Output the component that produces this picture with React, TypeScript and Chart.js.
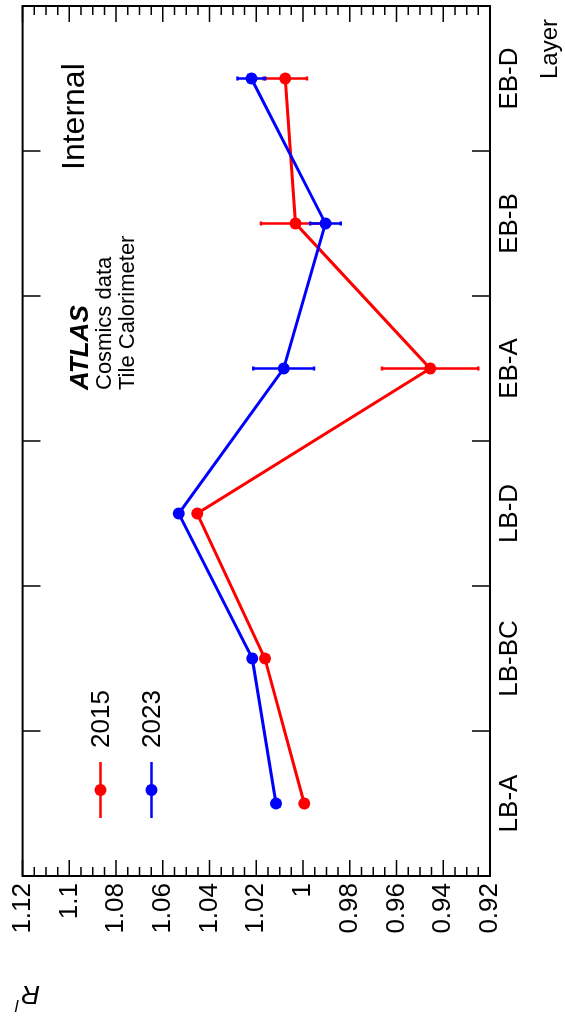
import { useEffect, useRef } from "react";
import { Chart, registerables } from "chart.js";

Chart.register(...registerables);

// ---- data ----
const layers = ["LB-A", "LB-BC", "LB-D", "EB-A", "EB-B", "EB-D"];
const years = ["2015", "2023"];
const colors = ["#ff0000", "#0000ff"];
const r2015 = [0.9995, 1.0163, 1.0453, 0.9456, 1.0032, 1.0076];
const e2015 = [0.0015, 0.0015, 0.0015, 0.0206, 0.0148, 0.0093];
const r2023 = [1.0116, 1.0217, 1.0532, 1.0083, 0.9904, 1.0221];
const e2023 = [0.0015, 0.0015, 0.0015, 0.013, 0.0065, 0.0059];
const errors = [e2015, e2023];
const yMin = 0.92;
const yMax = 1.12;
const yMajorStep = 0.02;
const yMinorStep = 0.005;
const xTitle = "Layer";
const atlasLines = ["Cosmics data", "Tile Calorimeter"];

const FONT = "'Liberation Sans', Arial, Helvetica, sans-serif";

const decor = {
  id: "atlasDecor",
  afterDatasetDraw(chart: any, args: any) {
    const i = args.index;
    const ds = chart.data.datasets[i];
    const errs = errors[i];
    const meta = chart.getDatasetMeta(i);
    const ys = chart.scales.y;
    const ctx = chart.ctx;
    ctx.save();
    ctx.strokeStyle = ds.borderColor;
    ctx.lineWidth = 2.5;
    meta.data.forEach((pt: any, k: number) => {
      const v = ds.data[k];
      const e = errs[k];
      const y1 = ys.getPixelForValue(v + e);
      const y2 = ys.getPixelForValue(v - e);
      ctx.beginPath();
      ctx.moveTo(pt.x, y1);
      ctx.lineTo(pt.x, y2);
      ctx.moveTo(pt.x - 2, y1);
      ctx.lineTo(pt.x + 2, y1);
      ctx.moveTo(pt.x - 2, y2);
      ctx.lineTo(pt.x + 2, y2);
      ctx.stroke();
    });
    ctx.restore();
  },
  afterDraw(chart: any) {
    const ctx = chart.ctx;
    const { left, right, top, bottom } = chart.chartArea;
    const ys = chart.scales.y;
    const xs = chart.scales.x;
    ctx.save();
    ctx.strokeStyle = "#000";
    ctx.fillStyle = "#000";
    // frame
    ctx.lineWidth = 2;
    ctx.strokeRect(left, top, right - left, bottom - top);
    // value-axis ticks (inside, both sides)
    ctx.lineWidth = 1.5;
    const n = Math.round((yMax - yMin) / yMinorStep);
    const perMajor = Math.round(yMajorStep / yMinorStep);
    ctx.beginPath();
    for (let k = 0; k <= n; k++) {
      const v = yMin + k * yMinorStep;
      const py = ys.getPixelForValue(v);
      const len = k % perMajor === 0 ? 16 : 9;
      ctx.moveTo(left, py);
      ctx.lineTo(left + len, py);
      ctx.moveTo(right, py);
      ctx.lineTo(right - len, py);
    }
    // category-axis ticks at band boundaries
    for (let k = 1; k < layers.length; k++) {
      const px = (xs.getPixelForValue(k - 1) + xs.getPixelForValue(k)) / 2;
      ctx.moveTo(px, bottom);
      ctx.lineTo(px, bottom - 18);
      ctx.moveTo(px, top);
      ctx.lineTo(px, top + 18);
    }
    ctx.stroke();

    // axis title (x)
    ctx.font = `24px ${FONT}`;
    ctx.textAlign = "right";
    ctx.textBaseline = "alphabetic";
    ctx.fillText(xTitle, right - 13, 557);

    // axis title (y) : R with small l, vertical
    ctx.save();
    ctx.translate(39, 40);
    ctx.rotate(-Math.PI / 2);
    ctx.textAlign = "left";
    ctx.font = `italic 26px ${FONT}`;
    ctx.fillText("R", 0, 0);
    ctx.font = `italic 17px ${FONT}`;
    ctx.fillText("l", 21, -14);
    ctx.restore();

    // ATLAS label
    ctx.textAlign = "left";
    ctx.font = `bold italic 26px ${FONT}`;
    ctx.fillText("ATLAS", left + 486, top + 65);
    ctx.font = `22px ${FONT}`;
    ctx.fillText(atlasLines[0], left + 486, top + 88);
    ctx.fillText(atlasLines[1], left + 486, top + 111);
    ctx.font = `32px ${FONT}`;
    ctx.fillText("Internal", left + 706, top + 61);

    // legend
    chart.data.datasets.forEach((ds: any, i: number) => {
      const yy = top + 78 + i * 51;
      const x0 = left + 58;
      ctx.strokeStyle = ds.borderColor;
      ctx.fillStyle = ds.borderColor;
      ctx.lineWidth = 2.5;
      ctx.beginPath();
      ctx.moveTo(x0, yy);
      ctx.lineTo(x0 + 56, yy);
      ctx.stroke();
      ctx.beginPath();
      ctx.arc(x0 + 28, yy, 6, 0, Math.PI * 2);
      ctx.fill();
      ctx.fillStyle = "#000";
      ctx.font = `26px ${FONT}`;
      ctx.textBaseline = "middle";
      ctx.fillText(ds.label, x0 + 70, yy + 1);
      ctx.textBaseline = "alphabetic";
    });
    ctx.restore();
  },
};

export default function App() {
  const ref = useRef<HTMLCanvasElement>(null);
  useEffect(() => {
    document.body.style.overflow = "hidden";
    const values = [r2015, r2023];
    const chart = new Chart(ref.current as HTMLCanvasElement, {
      type: "line",
      data: {
        labels: layers,
        datasets: years.map((y, i) => ({
          label: y,
          data: values[i],
          borderColor: colors[i],
          backgroundColor: colors[i],
          pointBackgroundColor: colors[i],
          pointBorderWidth: 0,
          pointRadius: 6,
          pointHoverRadius: 6,
          borderWidth: 3,
          tension: 0,
          fill: false,
          order: i === 0 ? 1 : 0,
        })),
      },
      options: {
        animation: false,
        responsive: false,
        maintainAspectRatio: false,
        devicePixelRatio: 1,
        layout: { padding: { top: 22, right: 5, left: 0, bottom: 0 } },
        plugins: { legend: { display: false }, tooltip: { enabled: false } },
        scales: {
          x: {
            type: "category",
            offset: true,
            grid: { display: false, drawTicks: false },
            border: { display: false },
            ticks: {
              font: { family: FONT, size: 26 },
              color: "#000",
              padding: 4,
              maxRotation: 0,
              autoSkip: false,
            },
            afterFit(s: any) {
              s.height = 75;
            },
          },
          y: {
            type: "linear",
            min: yMin,
            max: yMax,
            grid: { display: false, drawTicks: false },
            border: { display: false },
            ticks: {
              stepSize: yMajorStep,
              font: { family: FONT, size: 26 },
              color: "#000",
              padding: 7,
              callback: (v: any) => String(Number(Number(v).toFixed(3))),
            },
            afterFit(s: any) {
              s.width = 149;
            },
          },
        },
      },
      plugins: [decor],
    } as any);
    return () => chart.destroy();
  }, []);
  return (
    <div
      style={{
        position: "absolute",
        left: 0,
        top: 0,
        width: 1025,
        height: 565,
        transformOrigin: "0 0",
        transform: "translate(0px, 1025px) rotate(-90deg)",
        background: "#fff",
      }}
    >
      <canvas ref={ref} width={1025} height={565} style={{ display: "block", width: 1025, height: 565 }} />
    </div>
  );
}
